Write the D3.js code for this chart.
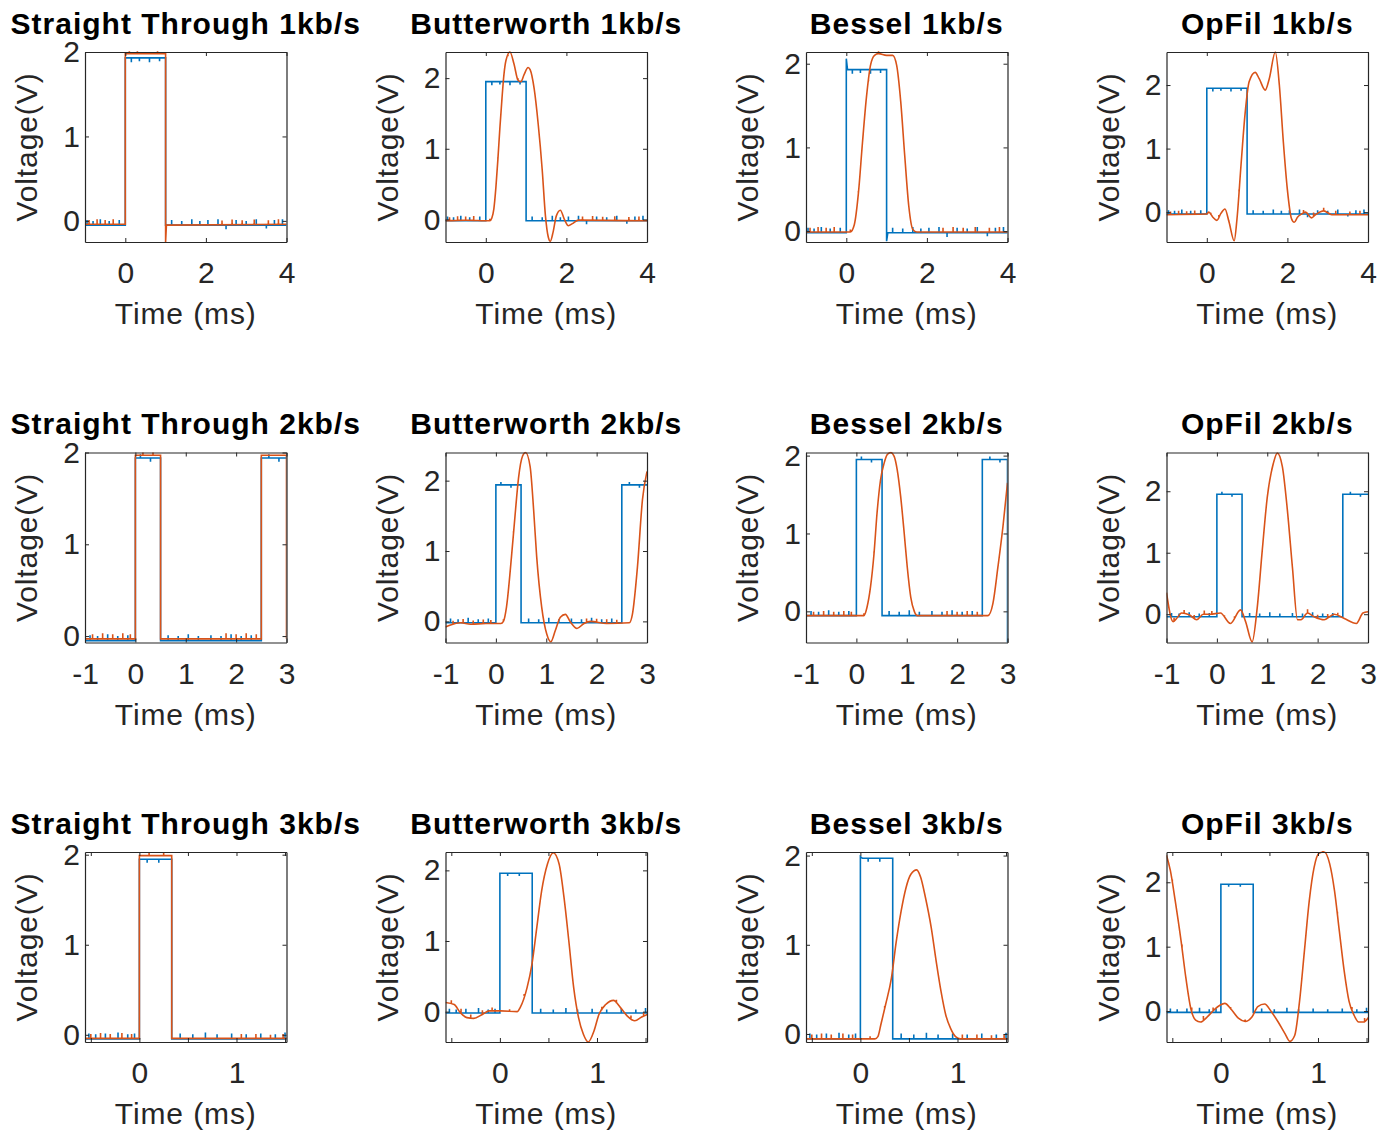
<!DOCTYPE html>
<html>
<head>
<meta charset="utf-8">
<script src="https://cdn.jsdelivr.net/npm/d3@7"></script>
<style>
body { margin: 0; background: #fff; }
text { font-family: "Liberation Sans", Arial, Helvetica, sans-serif; }
</style>
</head>
<body>
<svg id="chart" width="1388" height="1134"></svg>
<script>
// Titles, one row per bit rate
const titles = [
    ["Straight Through 1kb/s", "Butterworth 1kb/s", "Bessel 1kb/s", "OpFil 1kb/s"],
    ["Straight Through 2kb/s", "Butterworth 2kb/s", "Bessel 2kb/s", "OpFil 2kb/s"],
    ["Straight Through 3kb/s", "Butterworth 3kb/s", "Bessel 3kb/s", "OpFil 3kb/s"]
];

// x range and ticks per row (ms)
const xDomains = [[-1, 4], [-1, 3], [-0.56, 1.515]];
const xTicks = [[0, 2, 4], [-1, 0, 1, 2, 3], [-0.5, 0, 0.5, 1, 1.5]];
const yTicks = [0, 1, 2];

// y range per panel (V), axis tight
const yDomains = [
    [[-0.25, 2.0], [-0.32, 2.37], [-0.13, 2.14], [-0.47, 2.52]],
    [[-0.07, 2.0], [-0.30, 2.40], [-0.40, 2.04], [-0.46, 2.63]],
    [[-0.08, 2.03], [-0.43, 2.26], [-0.09, 2.04], [-0.48, 2.47]]
];

// ---- 1 kb/s ----
const stIn1 = [[-1, -0.05], [0, -0.05], [0, 1.93], [1, 1.93], [1, -0.05], [4, -0.05]];
const stOut1 = [[-1, -0.04], [0, -0.04], [0, 1.98], [1, 1.98], [1, -0.25], [1.02, -0.05], [4, -0.04]];
const bwIn1 = [[-1, -0.02], [0, -0.02], [0, 1.95], [1, 1.95], [1, -0.02], [4, -0.02]];
const bwOut1 = [[-1, -0.02], [-0.5, -0.01], [0.1, -0.02], [0.15, 0.02], [0.2, 0.15], [0.25, 0.45], [0.3, 0.85],
    [0.35, 1.3], [0.4, 1.7], [0.45, 2.05], [0.5, 2.25], [0.6, 2.37], [0.7, 2.2], [0.8, 1.97], [0.87, 1.95],
    [0.95, 2.05], [1.05, 2.15], [1.1, 2.12], [1.2, 1.85], [1.3, 1.35], [1.4, 0.7], [1.48, 0.05], [1.55, -0.25],
    [1.6, -0.31], [1.67, -0.18], [1.75, 0.05], [1.85, 0.13], [1.95, 0.0], [2.05, -0.09], [2.15, -0.06],
    [2.3, -0.01], [4, -0.02]];
const bsIn1 = [[-1, -0.02], [0, -0.02], [0, 2.06], [0.03, 1.93], [1, 1.93], [1, -0.12], [1.03, -0.02], [4, -0.02]];
const bsOut1 = [[-1, -0.01], [0.1, -0.01], [0.2, 0.08], [0.3, 0.45], [0.4, 1.05], [0.5, 1.6], [0.6, 1.98],
    [0.7, 2.1], [0.8, 2.12], [1.0, 2.1], [1.15, 2.1], [1.25, 1.98], [1.35, 1.55], [1.45, 0.9], [1.55, 0.3],
    [1.65, 0.02], [1.75, -0.01], [4, -0.01]];
const opIn1 = [[-1, -0.03], [0, -0.03], [0, 1.95], [1, 1.95], [1, -0.03], [4, -0.03]];
const opOut1 = [[-1, -0.04], [0, -0.03], [0.05, 0.0], [0.15, -0.08], [0.25, -0.13], [0.35, -0.02], [0.45, 0.05],
    [0.55, -0.15], [0.68, -0.45], [0.75, -0.1], [0.85, 0.75], [0.95, 1.55], [1.05, 2.05], [1.2, 2.2], [1.3, 2.1],
    [1.45, 1.92], [1.55, 2.1], [1.7, 2.52], [1.8, 2.0], [1.9, 1.1], [2.0, 0.35], [2.1, -0.1], [2.17, -0.16],
    [2.25, -0.08], [2.35, -0.03], [2.45, 0.0], [2.6, -0.09], [2.7, -0.04], [2.9, 0.02], [3.1, -0.04], [4, -0.04]];

// ---- 2 kb/s ----
const stIn2 = [[-1, -0.05], [0, -0.05], [0, 1.94], [0.5, 1.94], [0.5, -0.05], [2.5, -0.05], [2.5, 1.94], [3, 1.94]];
const stOut2 = [[-1, -0.03], [0, -0.03], [0, 1.97], [0.5, 1.97], [0.5, -0.03], [2.5, -0.03], [2.5, 1.97],
    [3, 1.97], [3, -0.03]];
const bwIn2 = [[-1, -0.02], [0, -0.02], [0, 1.94], [0.5, 1.94], [0.5, -0.02], [2.5, -0.02], [2.5, 1.94], [3, 1.94]];
const bwOut2 = [[-1, -0.08], [-0.9, -0.05], [-0.7, -0.02], [-0.5, -0.04], [-0.2, -0.03], [0.1, -0.03], [0.15, 0.0],
    [0.21, 0.2], [0.31, 0.92], [0.38, 1.5], [0.45, 2.04], [0.53, 2.35], [0.59, 2.4], [0.68, 2.2], [0.75, 1.58],
    [0.81, 0.92], [0.91, 0.2], [1.01, -0.18], [1.09, -0.29], [1.18, -0.13], [1.28, 0.06], [1.38, 0.1],
    [1.48, -0.01], [1.61, -0.1], [1.75, -0.03], [1.88, 0.0], [2.2, -0.03], [2.65, -0.02], [2.71, 0.1],
    [2.81, 0.77], [2.91, 1.73], [3, 2.13]];
const bsIn2 = [[-1, -0.055], [0, -0.055], [0, 1.95], [0.51, 1.95], [0.51, -0.055], [2.5, -0.055], [2.5, 1.95],
    [3, 1.95], [3, -0.4]];
const bsOut2 = [[-1, -0.055], [0.15, -0.055], [0.21, 0.05], [0.28, 0.31], [0.35, 0.74], [0.41, 1.26], [0.48, 1.69],
    [0.55, 1.9], [0.61, 2.01], [0.68, 2.04], [0.75, 1.99], [0.81, 1.82], [0.88, 1.47], [0.95, 1.0], [1.01, 0.57],
    [1.08, 0.18], [1.15, 0.0], [1.21, -0.055], [2.61, -0.055], [2.71, 0.1], [2.81, 0.57], [2.91, 1.09], [3, 1.65]];
const opIn2 = [[-1, -0.04], [0, -0.04], [0, 1.95], [0.5, 1.95], [0.5, -0.04], [2.5, -0.04], [2.5, 1.95], [3, 1.95]];
const opOut2 = [[-1, 0.35], [-0.87, -0.12], [-0.8, -0.07], [-0.7, 0.02], [-0.55, -0.01], [-0.4, -0.09],
    [-0.27, 0.0], [-0.13, 0.0], [0.07, 0.02], [0.27, -0.15], [0.47, 0.07], [0.57, -0.12], [0.7, -0.45],
    [0.8, 0.1], [0.9, 1.03], [1.0, 1.9], [1.12, 2.45], [1.2, 2.62], [1.3, 2.4], [1.4, 1.69], [1.5, 0.76],
    [1.6, -0.09], [1.67, -0.09], [1.8, 0.02], [1.93, -0.04], [2.13, -0.09], [2.33, 0.0], [2.53, -0.07],
    [2.77, -0.15], [2.9, 0.02], [3, 0.04]];

// ---- 3 kb/s ----
const stIn3 = [[-0.56, -0.045], [0, -0.045], [0, 1.95], [0.333, 1.95], [0.333, -0.045], [1.52, -0.045]];
const stOut3 = [[-0.56, -0.04], [0, -0.04], [0, 1.99], [0.333, 1.99], [0.333, -0.04], [1.52, -0.04]];
const bwIn3 = [[-0.56, -0.02], [0, -0.02], [0, 1.96], [0.333, 1.96], [0.333, -0.02], [1.52, -0.02]];
const bwOut3 = [[-0.56, 0.13], [-0.47, 0.1], [-0.41, -0.01], [-0.34, -0.085], [-0.27, -0.095], [-0.18, -0.04],
    [-0.11, 0.01], [0.01, 0.01], [0.18, 0.0], [0.21, 0.06], [0.28, 0.34], [0.33, 0.67], [0.38, 1.19],
    [0.43, 1.71], [0.49, 2.09], [0.55, 2.25], [0.61, 2.09], [0.66, 1.62], [0.71, 1.0], [0.76, 0.34],
    [0.81, -0.085], [0.86, -0.32], [0.91, -0.43], [0.97, -0.27], [1.02, -0.04], [1.09, 0.1], [1.17, 0.16],
    [1.24, 0.06], [1.31, -0.06], [1.39, -0.13], [1.46, -0.076], [1.52, -0.04]];
const bsIn3 = [[-0.56, -0.055], [0, -0.055], [0, 1.99], [0.02, 1.97], [0.333, 1.97], [0.333, -0.055], [1.52, -0.055]];
const bsOut3 = [[-0.56, -0.055], [0.15, -0.055], [0.18, -0.03], [0.21, 0.1], [0.26, 0.33], [0.32, 0.63],
    [0.37, 1.04], [0.42, 1.38], [0.47, 1.64], [0.52, 1.79], [0.58, 1.84], [0.62, 1.76], [0.67, 1.53],
    [0.73, 1.19], [0.78, 0.82], [0.83, 0.48], [0.88, 0.21], [0.93, 0.06], [0.98, -0.03], [1.03, -0.055],
    [1.52, -0.055]];
const opIn3 = [[-0.56, -0.02], [0, -0.02], [0, 1.97], [0.333, 1.97], [0.333, -0.02], [1.52, -0.02]];
const opOut3 = [[-0.56, 2.42], [-0.52, 2.18], [-0.47, 1.71], [-0.41, 1.09], [-0.36, 0.51], [-0.31, 0.04],
    [-0.26, -0.14], [-0.21, -0.17], [-0.14, -0.09], [-0.07, 0.02], [-0.01, 0.09], [0.04, 0.12], [0.11, 0.02],
    [0.18, -0.11], [0.25, -0.16], [0.32, -0.09], [0.38, 0.07], [0.45, 0.11], [0.52, -0.01], [0.59, -0.17],
    [0.66, -0.35], [0.71, -0.47], [0.76, -0.38], [0.81, 0.15], [0.86, 0.93], [0.91, 1.71], [0.96, 2.23],
    [1.01, 2.45], [1.065, 2.47], [1.12, 2.29], [1.17, 1.87], [1.22, 1.24], [1.27, 0.62], [1.32, 0.15],
    [1.37, -0.06], [1.42, -0.17], [1.47, -0.17], [1.52, -0.1]];

const blueNoise = [
    [[-0.95, 0.06], [-0.8, 0.05], [-0.62, 0.07], [-0.4, 0.05], [-0.15, 0.06], [0.15, -0.05], [0.35, -0.04],
     [0.6, -0.05], [0.85, -0.04], [1.15, 0.06], [1.4, 0.05], [1.65, 0.07], [1.85, 0.05], [2.05, 0.06],
     [2.3, 0.07], [2.5, -0.05], [2.75, 0.06], [3.0, 0.05], [3.25, 0.07], [3.5, -0.04], [3.7, 0.06], [3.9, 0.07]],
    [[-0.9, 0.06], [-0.75, 0.05], [-0.55, 0.07], [-0.35, 0.05], [-0.15, 0.06], [0.1, 0.04], [0.3, -0.04],
     [0.65, 0.06], [0.85, 0.05], [1.05, 0.07], [1.25, 0.05], [1.5, 0.06], [1.7, 0.05], [1.9, 0.07],
     [2.1, 0.05], [2.3, 0.06], [2.65, 0.04], [2.85, -0.04]],
    [[-0.52, 0.06], [-0.45, 0.05], [-0.35, 0.06], [-0.22, 0.07], [-0.12, 0.05], [-0.05, 0.06], [0.08, -0.04],
     [0.2, -0.04], [0.42, 0.06], [0.55, 0.05], [0.68, 0.07], [0.8, 0.05], [0.95, 0.06], [1.1, 0.05],
     [1.25, 0.06], [1.4, 0.05], [1.5, 0.07]]
];
const orangeNoise = [
    [[-0.9, 0.05], [-0.7, 0.06], [-0.5, 0.05], [-0.3, 0.06], [0.1, 0.03], [0.3, 0.03], [0.55, 0.02], [0.8, 0.03],
     [2.4, 0.05], [2.65, 0.06], [2.9, 0.05], [3.2, 0.06], [3.55, 0.05], [3.8, 0.06]],
    [[-0.85, 0.05], [-0.65, 0.06], [-0.45, 0.05], [-0.25, 0.06], [-0.1, 0.05], [0.15, 0.03], [0.35, 0.03],
     [1.8, 0.06], [2.0, 0.05], [2.2, 0.06], [2.4, 0.05]],
    [[-0.5, 0.05], [-0.4, 0.06], [-0.3, 0.05], [-0.18, 0.06], [-0.08, 0.05], [0.1, 0.03], [0.25, 0.03],
     [1.05, 0.05], [1.2, 0.05], [1.35, 0.04], [1.48, 0.05]]
];

const inputs = [[stIn1, bwIn1, bsIn1, opIn1], [stIn2, bwIn2, bsIn2, opIn2], [stIn3, bwIn3, bsIn3, opIn3]];
const outputs = [[stOut1, bwOut1, bsOut1, opOut1], [stOut2, bwOut2, bsOut2, opOut2], [stOut3, bwOut3, bsOut3, opOut3]];

// layout
const COL_X = [85, 445.5, 806, 1166.5];
const ROW_Y = [52, 452.5, 852];
const PANEL_W = 201.5;
const PANEL_H = 190;
const BLUE = "#0072BD";
const ORANGE = "#D95319";
const AXIS_COLOR = "#262626";
const FONT_SIZE = 30;

const svg = d3.select("#chart");
svg.append("rect").attr("width", 1388).attr("height", 1134).attr("fill", "#fff");

for (let r = 0; r < 3; r++) {
    for (let c = 0; c < 4; c++) {
        drawPanel(r, c);
    }
}

function valueAt(series, t) {
    const i = d3.bisector(d => d[0]).right(series, t);
    if (i <= 0) return series[0][1];
    if (i >= series.length) return series[series.length - 1][1];
    const a = series[i - 1], b = series[i];
    if (b[0] === a[0]) return b[1];
    return a[1] + (b[1] - a[1]) * (t - a[0]) / (b[0] - a[0]);
}

function drawPanel(r, c) {
    const x = d3.scaleLinear().domain(xDomains[r]).range([0, PANEL_W]);
    const y = d3.scaleLinear().domain(yDomains[r][c]).range([PANEL_H, 0]);
    const g = svg.append("g").attr("transform", `translate(${COL_X[c]},${ROW_Y[r]})`);

    const clipId = `clip-${r}-${c}`;
    g.append("clipPath").attr("id", clipId)
        .append("rect").attr("x", 0).attr("y", -1).attr("width", PANEL_W).attr("height", PANEL_H + 2);
    const plot = g.append("g").attr("clip-path", `url(#${clipId})`);

    const stepLine = d3.line().x(d => x(d[0])).y(d => y(d[1]));
    const smoothLine = d3.line().x(d => x(d[0])).y(d => y(d[1])).curve(d3.curveMonotoneX);
    const spikes = (series, noise) => noise.map(([t, dv]) => {
        const v = valueAt(series, t);
        return `M${x(t)},${y(v)}L${x(t)},${y(v + dv)}`;
    }).join("");

    const inp = inputs[r][c];
    const out = outputs[r][c];
    const outLine = c === 0 ? stepLine : smoothLine;

    plot.append("path").attr("d", stepLine(inp) + spikes(inp, blueNoise[r]))
        .attr("fill", "none").attr("stroke", BLUE).attr("stroke-width", 1.6);
    plot.append("path").attr("d", outLine(out) + spikes(out, orangeNoise[r]))
        .attr("fill", "none").attr("stroke", ORANGE).attr("stroke-width", 1.6);

    // axes with inward ticks on all four sides
    const fmtX = d => Number.isInteger(d) ? String(d) : "";
    const axes = [
        g.append("g").attr("transform", `translate(0,${PANEL_H})`)
            .call(d3.axisBottom(x).tickValues(xTicks[r]).tickSizeInner(-4).tickSizeOuter(0).tickPadding(20).tickFormat(fmtX)),
        g.append("g")
            .call(d3.axisTop(x).tickValues(xTicks[r]).tickSizeInner(-4).tickSizeOuter(0).tickFormat("")),
        g.append("g")
            .call(d3.axisLeft(y).tickValues(yTicks).tickSizeInner(-4).tickSizeOuter(0).tickPadding(5).tickFormat(d => String(d))),
        g.append("g").attr("transform", `translate(${PANEL_W},0)`)
            .call(d3.axisRight(y).tickValues(yTicks).tickSizeInner(-4).tickSizeOuter(0).tickFormat(""))
    ];
    axes.forEach(a => {
        a.selectAll(".domain").attr("stroke", AXIS_COLOR).attr("stroke-width", 1.2);
        a.selectAll(".tick line").attr("stroke", AXIS_COLOR).attr("stroke-width", 1);
        a.selectAll(".tick text").attr("fill", AXIS_COLOR).attr("font-size", FONT_SIZE)
            .attr("font-family", '"Liberation Sans", Arial, sans-serif');
    });

    g.append("text")
        .attr("x", PANEL_W / 2).attr("y", -18.5)
        .attr("text-anchor", "middle")
        .attr("font-size", 30).attr("font-weight", "bold")
        .attr("letter-spacing", "1px")
        .attr("fill", "#000")
        .text(titles[r][c]);

    g.append("text")
        .attr("x", PANEL_W / 2).attr("y", PANEL_H + 82)
        .attr("text-anchor", "middle")
        .attr("font-size", FONT_SIZE).attr("letter-spacing", "0.9px")
        .attr("fill", AXIS_COLOR)
        .text("Time (ms)");

    g.append("text")
        .attr("transform", `translate(-48,${PANEL_H / 2}) rotate(-90)`)
        .attr("text-anchor", "middle")
        .attr("font-size", FONT_SIZE).attr("letter-spacing", "0.9px")
        .attr("fill", AXIS_COLOR)
        .text("Voltage(V)");
}
</script>
</body>
</html>
